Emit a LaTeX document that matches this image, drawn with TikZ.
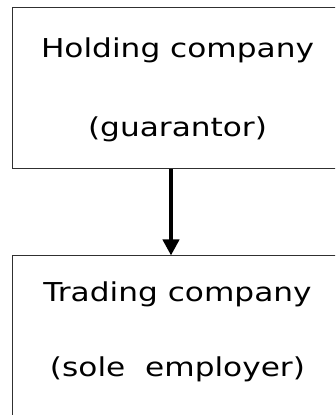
\documentclass[tikz,border=0pt]{standalone}
\usepackage{fontspec}
\usepackage{tikz}
\usetikzlibrary{positioning,arrows.meta}
\newfontfamily\boxfont[FakeStretch=1.2]{DejaVu Sans}
\definecolor{cborde}{HTML}{303030}
\tikzset{
  firma/.style={rectangle, draw=cborde, line width=1pt, fill=white,
    minimum width=331pt, inner sep=0pt},
  rotulo/.style={font=\boxfont\fontsize{26}{30}\selectfont, text=black,
    inner sep=0pt, anchor=base},
  flecha/.style={-{Triangle[length=16pt,width=16pt]}, line width=4pt, draw=black},
}
\begin{document}
\begin{tikzpicture}[x=1pt,y=1pt]
  \useasboundingbox (0,0) rectangle (335,415);
  \clip (0,0) rectangle (335,415);
  \node[firma, minimum height=161pt] (hold) at (177.5,326.5) {};
  \node[firma, minimum height=189pt] (trade) at (177.5,64.5) {};
  \node[rotulo] (holdname) at ([yshift=-50pt]hold.north) {Holding company};
  \node[rotulo] (holdrole) at ([yshift=-129pt]hold.north) {(guarantor)};
  \node[rotulo] (tradename) at ([yshift=-46pt]trade.north) {Trading company};
  \node[rotulo] (traderole) at ([yshift=-121pt]trade.north) {(sole\ \ employer)};
  \draw[flecha] ([xshift=-6.5pt]hold.south) -- ([xshift=-6.5pt]trade.north);
\end{tikzpicture}
\end{document}
